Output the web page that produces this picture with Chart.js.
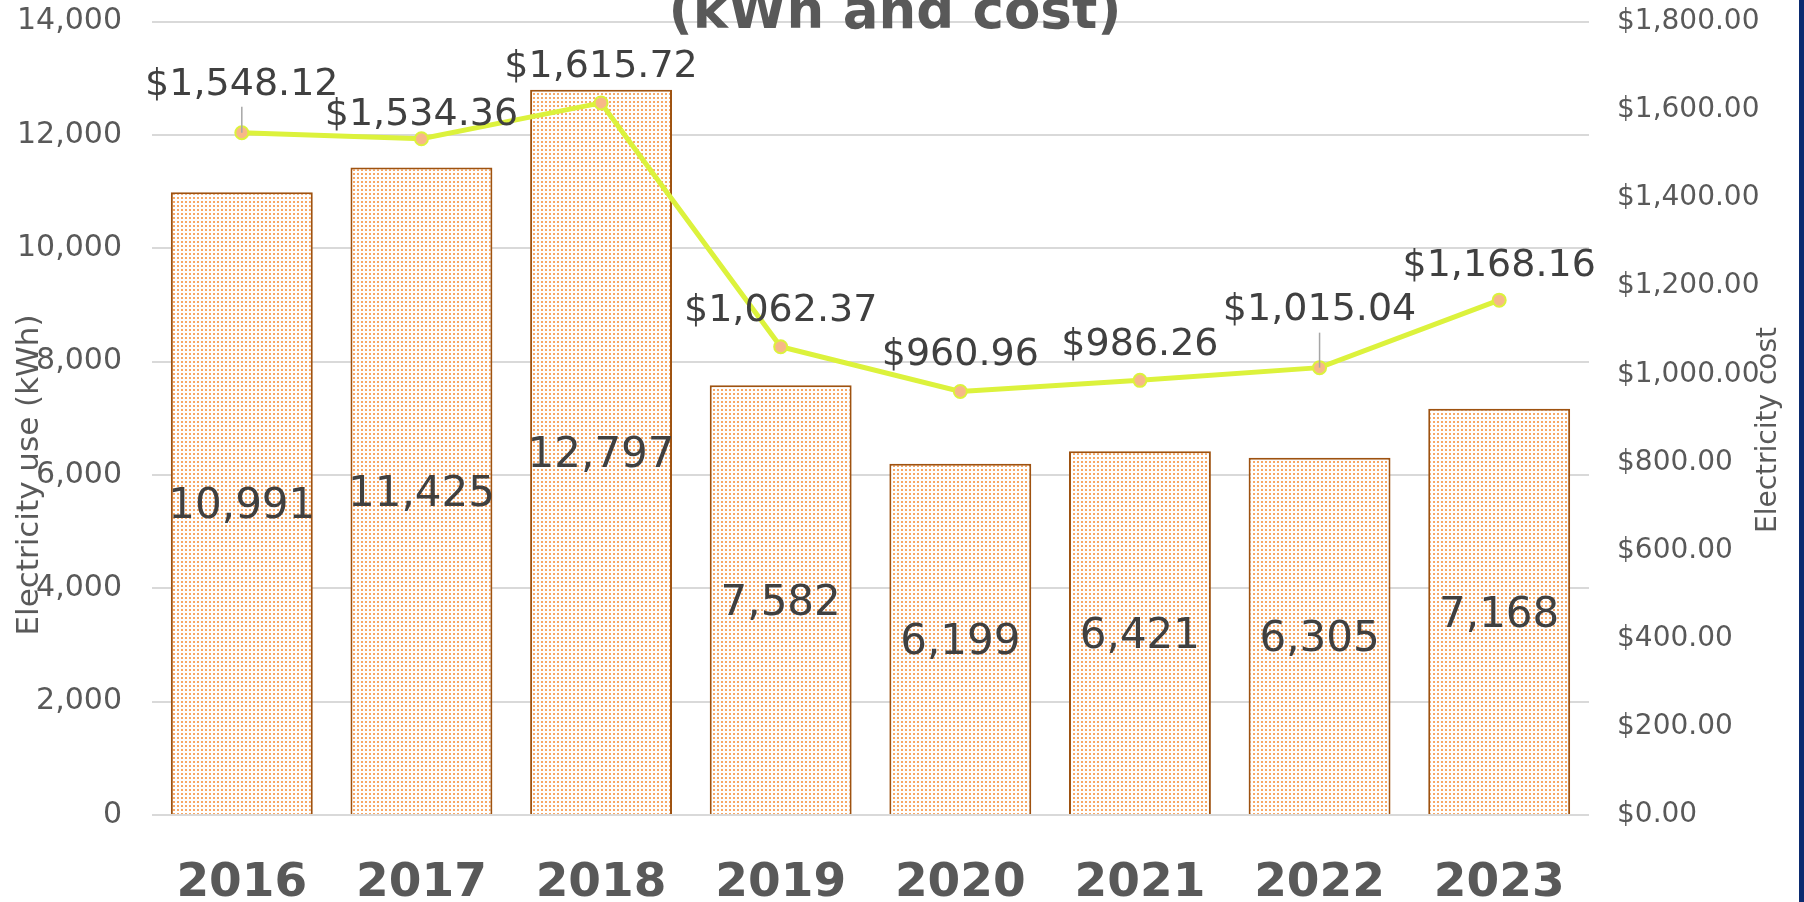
<!DOCTYPE html>
<html>
<head>
<meta charset="utf-8">
<script src="https://cdn.jsdelivr.net/npm/chart.js@4.4.1/dist/chart.umd.min.js"></script>
<style>
  html, body { margin: 0; padding: 0; background: #fff; }
  canvas { display: block; }
</style>
</head>
<body>
<canvas id="myChart" width="1804" height="902"></canvas>
<script>
const years = ["2016", "2017", "2018", "2019", "2020", "2021", "2022", "2023"];
const usageKwh = [10991, 11425, 12797, 7582, 6199, 6421, 6305, 7168];
const costDollars = [1548.12, 1534.36, 1615.72, 1062.37, 960.96, 986.26, 1015.04, 1168.16];
const usageTicks = [0, 2000, 4000, 6000, 8000, 10000, 12000, 14000];
const costTicks = [0, 200, 400, 600, 800, 1000, 1200, 1400, 1600, 1800];

// how far each cost label sits above its point, and which ones get a leader line
const costLabelLift = [52, 28, 40, 40, 40, 39, 61, 38];
const costLeader = [true, false, false, false, false, false, true, false];

const FONT = "'DejaVu Sans', Verdana, sans-serif";
const ctx = document.getElementById("myChart");

const fmtUse = (v) => v.toLocaleString("en-US");
const fmtCost = (v) =>
  "$" + v.toLocaleString("en-US", { minimumFractionDigits: 2, maximumFractionDigits: 2 });

// dotted fill like the office pattern
const tile = document.createElement("canvas");
tile.width = 4;
tile.height = 4;
const tctx = tile.getContext("2d");
tctx.fillStyle = "#ffffff";
tctx.fillRect(0, 0, 4, 4);
tctx.fillStyle = "#f7a866";
tctx.fillRect(1, 1, 2, 2);
const dotted = tctx.createPattern(tile, "repeat");

function textAt(c, txt, x, cy, size, weight) {
  c.font = (weight || "normal") + " " + size + "px " + FONT;
  c.textAlign = "center";
  c.textBaseline = "alphabetic";
  c.fillText(txt, x, cy + size * 0.364);
}

// tick padding is only a sideways gap here, keep it out of the top/bottom padding
const trimPad = (s) => {
  s.paddingTop = 10;
  s.paddingBottom = 10;
};

const extras = {
  id: "extras",
  beforeDraw(chart) {
    const c = chart.ctx;
    c.save();
    c.fillStyle = "#ffffff";
    c.fillRect(0, 0, chart.width, chart.height);
    c.fillStyle = "#0b2b70";
    c.fillRect(chart.width - 5, 0, 5, chart.height);
    c.restore();
  },
  afterDatasetsDraw(chart) {
    const c = chart.ctx;
    c.save();
    c.fillStyle = "#404040";
    // dataset 1 is the bars, dataset 0 the cost line
    chart.getDatasetMeta(1).data.forEach((bar, i) => {
      textAt(c, fmtUse(usageKwh[i]), bar.x, (bar.y + bar.base) / 2, 42);
    });
    chart.getDatasetMeta(0).data.forEach((pt, i) => {
      const cy = pt.y - costLabelLift[i];
      c.fillStyle = "#404040";
      textAt(c, fmtCost(costDollars[i]), pt.x, cy, 38);
      if (costLeader[i]) {
        c.strokeStyle = "#a6a6a6";
        c.lineWidth = 1.5;
        c.beginPath();
        c.moveTo(pt.x, cy + 14 + 12);
        c.lineTo(pt.x, pt.y);
        c.stroke();
      }
    });
    c.restore();
  },
  afterDraw(chart) {
    const c = chart.ctx;
    c.save();
    c.fillStyle = "#595959";
    c.font = "bold 53px " + FONT;
    c.textAlign = "center";
    c.textBaseline = "alphabetic";
    c.fillText("(kWh and cost)", 895, 28);

    c.font = "31px " + FONT;
    c.textBaseline = "middle";
    c.translate(30, 475);
    c.rotate(-Math.PI / 2);
    c.fillText("Electricity use (kWh)", 0, 0);
    c.setTransform(1, 0, 0, 1, 0, 0);
    c.font = "28px " + FONT;
    c.translate(1769, 430);
    c.rotate(-Math.PI / 2);
    c.fillText("Electricity cost", 0, 0);
    c.restore();
  },
};

new Chart(ctx, {
  type: "bar",
  data: {
    labels: years,
    datasets: [
      {
        type: "line",
        label: "Electricity cost",
        data: costDollars,
        yAxisID: "y1",
        order: 0,
        borderColor: "#dcf23c",
        borderWidth: 5,
        tension: 0,
        pointRadius: 6.5,
        pointBackgroundColor: "#f7b888",
        pointBorderColor: "#dcf23c",
        pointBorderWidth: 2,
      },
      {
        type: "bar",
        label: "Electricity use",
        data: usageKwh,
        yAxisID: "y",
        order: 1,
        backgroundColor: dotted,
        borderColor: "#9e5210",
        borderWidth: 2,
        barPercentage: 0.79,
        categoryPercentage: 1,
      },
    ],
  },
  options: {
    responsive: false,
    animation: false,
    layout: { padding: { top: 21.7, left: 0, right: 0, bottom: 0 } },
    plugins: {
      legend: { display: false },
      tooltip: { enabled: false },
      title: { display: false },
    },
    scales: {
      x: {
        grid: { display: false },
        border: { display: false },
        ticks: {
          color: "#595959",
          font: { family: FONT, size: 47, weight: "bold" },
          padding: 33,
          maxRotation: 0,
        },
        afterFit: (s) => { s.height = 87; },
      },
      y: {
        position: "left",
        min: usageTicks[0],
        max: usageTicks[usageTicks.length - 1],
        border: { display: false },
        grid: { color: "#d9d9d9", lineWidth: 2, drawTicks: false },
        ticks: {
          stepSize: usageTicks[1] - usageTicks[0],
          color: "#595959",
          font: { family: FONT, size: 30 },
          padding: 30,
          callback: (v) => fmtUse(v),
        },
        afterFit: (s) => { s.width = 152; trimPad(s); },
      },
      y1: {
        position: "right",
        min: costTicks[0],
        max: costTicks[costTicks.length - 1],
        border: { display: false },
        grid: { drawOnChartArea: false, drawTicks: false },
        ticks: {
          stepSize: costTicks[1] - costTicks[0],
          color: "#595959",
          font: { family: FONT, size: 28 },
          padding: 28,
          callback: (v) => fmtCost(v),
        },
        afterFit: (s) => { s.width = 215; trimPad(s); },
      },
    },
  },
  plugins: [extras],
});
</script>
</body>
</html>
